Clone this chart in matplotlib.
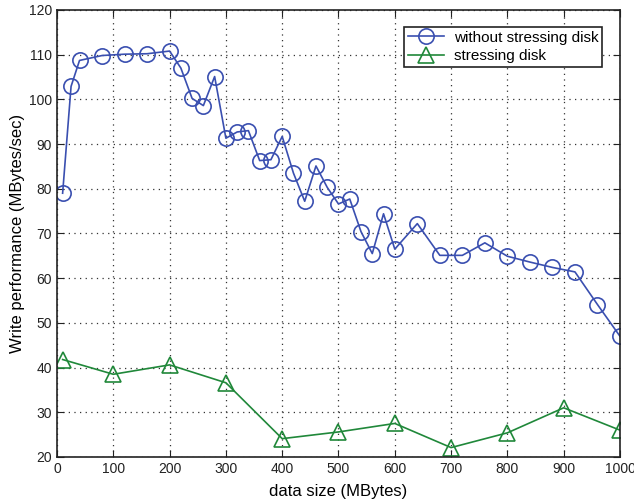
import matplotlib

matplotlib.use('Agg')
import matplotlib.pyplot as plt

plt.rcParams['font.family'] = ['Liberation Sans', 'DejaVu Sans']

# without stressing disk
size_free = [10, 25, 40, 80, 120, 160, 200, 220, 240, 260, 280, 300, 320, 340,
             360, 380, 400, 420, 440, 460, 480, 500, 520, 540, 560, 580, 600,
             640, 680, 720, 760, 800, 840, 880, 920, 960, 1000]
perf_free = [79.0, 102.9, 108.7, 109.8, 110.1, 110.2, 110.8, 107.0, 100.2, 98.6,
             105.1, 91.3, 92.7, 93.0, 86.3, 86.5, 91.7, 83.5, 77.2, 85.1, 80.3,
             76.6, 77.7, 70.4, 65.5, 74.4, 66.5, 72.2, 65.1, 65.1, 67.9, 64.9,
             63.6, 62.4, 61.4, 54.1, 47.0]

# stressing disk
size_stress = [10, 100, 200, 300, 400, 500, 600, 700, 800, 900, 1000]
perf_stress = [41.8, 38.5, 40.6, 36.6, 24.1, 25.6, 27.5, 22.1, 25.4, 31.0, 26.0]

x_ticks = [0, 100, 200, 300, 400, 500, 600, 700, 800, 900, 1000]
y_ticks = [20, 30, 40, 50, 60, 70, 80, 90, 100, 110, 120]

blue = '#3a4fb0'
green = '#20883a'

fig = plt.figure(figsize=(6.34, 5.04), dpi=100)
ax = fig.add_axes([0.0899, 0.0933, 0.888, 0.887])

ax.plot(size_free, perf_free, color=blue, linewidth=1.2, marker='o',
        markersize=11, markerfacecolor='none', markeredgecolor=blue,
        markeredgewidth=1.2, label='without stressing disk')
ax.plot(size_stress, perf_stress, color=green, linewidth=1.2, marker='^',
        markersize=11.5, markerfacecolor='none', markeredgecolor=green,
        markeredgewidth=1.2, label='stressing disk')

ax.set_xlim(0, 1000)
ax.set_ylim(20, 120)
ax.set_xticks(x_ticks)
ax.set_yticks(y_ticks)
ax.grid(True, linestyle=(0, (1, 3.5)), color='#333333', linewidth=0.9)
ax.tick_params(direction='in', top=True, right=True, labelsize=10,
               length=5, colors='#222222')
for spine in ax.spines.values():
    spine.set_linewidth(1.2)
    spine.set_color('#222222')

ax.set_xlabel('data size (MBytes)', fontsize=12, labelpad=6)
ax.set_ylabel('Write performance (MBytes/sec)', fontsize=12, labelpad=3)

leg = ax.legend(loc='upper right', bbox_to_anchor=(0.968, 0.962), fontsize=11,
                fancybox=False, framealpha=1, edgecolor='#222222',
                borderpad=0.25, labelspacing=0.3, handlelength=2.4,
                handletextpad=0.6, borderaxespad=0)
leg.get_frame().set_linewidth(1.2)

fig.savefig('out.png', dpi=100)
